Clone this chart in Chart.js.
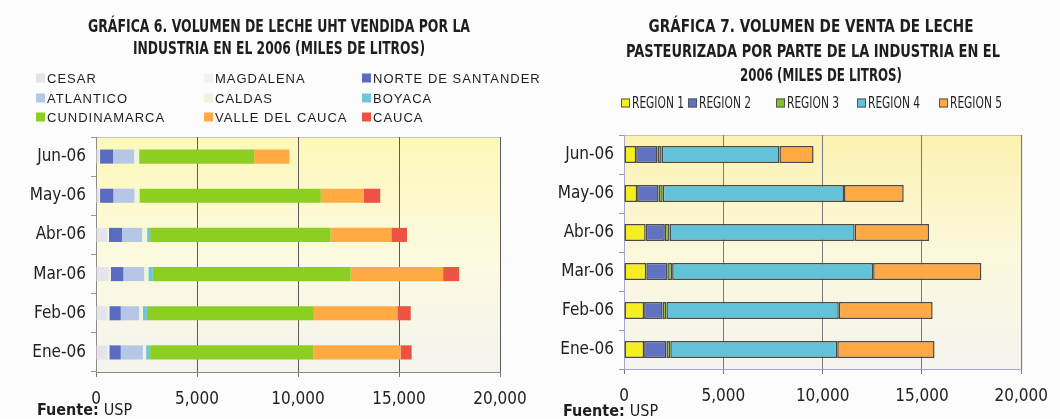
<!DOCTYPE html>
<html><head><meta charset="utf-8">
<script src="https://cdn.jsdelivr.net/npm/chart.js@4/dist/chart.umd.min.js"></script>
<style>
html,body{margin:0;padding:0;background:#fcfcfc;}
#wrap{position:relative;width:1060px;height:419px;overflow:hidden;}
canvas{position:absolute;top:0;}
#c1{left:0}
#c2{left:540px}
</style></head><body>
<div id="wrap"><canvas id="c1" width="540" height="419"></canvas><canvas id="c2" width="520" height="419"></canvas></div>
<script>
const months = ['Ene-06','Feb-06','Mar-06','Abr-06','May-06','Jun-06'];
const xMin = 0, xMax = 20000, xStep = 5000;

// Gráfica 6 (miles de litros)
const title6 = ['GRÁFICA 6. VOLUMEN DE LECHE UHT VENDIDA POR LA', 'INDUSTRIA EN EL 2006 (MILES DE LITROS)'];
const names6 = ['CESAR','MAGDALENA','NORTE DE SANTANDER','ATLANTICO','CALDAS','BOYACA','CUNDINAMARCA','VALLE DEL CAUCA','CAUCA'];
const cesar          = [560, 560, 630, 545, 150, 150];
const magdalena      = [100, 100, 100, 100, 50, 50];
const norteSantander = [565, 565, 625, 645, 660, 645];
const atlantico      = [1090, 910, 1025, 990, 1040, 1040];
const caldas         = [165, 185, 215, 250, 250, 250];
const boyaca         = [200, 200, 220, 150, 0, 0];
const cundinamarca   = [8070, 8265, 9790, 8930, 8980, 5700];
const valleCauca     = [4330, 4135, 4580, 3010, 2120, 1740];
const cauca          = [545, 660, 795, 775, 820, 0];
const colors6 = ['#e4e4ea','#f1f4ec','#5a6cc0','#b6c6e6','#eef3da','#6cc6d8','#8ccf22','#ffaa42','#ee5242'];

// Gráfica 7 (miles de litros)
const title7 = ['GRÁFICA 7. VOLUMEN DE VENTA DE LECHE', 'PASTEURIZADA POR PARTE DE LA INDUSTRIA EN EL', '2006 (MILES DE LITROS)'];
const names7 = ['REGION 1','REGION 2','REGION 3','REGION 4','REGION 5'];
const region1 = [1012, 1012, 1123, 1090, 660, 612];
const region2 = [1125, 930, 1060, 965, 1080, 1075];
const region3 = [193, 193, 240, 240, 210, 207];
const region4 = [8405, 8680, 10120, 9320, 9125, 5930];
const region5 = [4900, 4725, 5450, 3745, 3008, 1720];
const colors7 = ['#f6ee22','#6272c2','#82c032','#62c2d8','#ffa846'];

const FN = "'Liberation Sans Narrow','Arial Narrow','DejaVu Sans Condensed',sans-serif";
const FR = "'Liberation Sans',Arial,sans-serif";

const decoPlugin = {
  id: 'deco',
  beforeDraw(chart, args, o) {
    const {ctx, chartArea: a} = chart;
    ctx.save();
    const g = ctx.createLinearGradient(a.left, a.top, a.left, a.bottom);
    g.addColorStop(0, o.bg[0]); g.addColorStop(0.5, o.bg[1]); g.addColorStop(1, o.bg[2]);
    ctx.fillStyle = g;
    ctx.fillRect(a.left, a.top, a.width, a.height);
    ctx.strokeStyle = o.frame; ctx.lineWidth = 1;
    ctx.strokeRect(Math.round(a.left) + 0.5, Math.round(a.top) + 0.5, a.width, a.height);
    ctx.restore();
  },
  afterDraw(chart, args, o) {
    const ctx = chart.ctx;
    ctx.save();
    ctx.fillStyle = '#1e1e1e';
    ctx.textBaseline = 'middle';
    ctx.textAlign = 'center';
    ctx.font = 'bold 17px ' + FN;
    o.title.forEach((t, i) => ctx.fillText(t, o.titleX[i], o.titleY[i], o.titleW[i]));
    ctx.textAlign = 'left';
    ctx.font = o.legFont;
    if (o.legSpacing) ctx.letterSpacing = o.legSpacing;
    chart.data.datasets.forEach((ds, i) => {
      const col = i % o.legCols.length, row = Math.floor(i / o.legCols.length);
      const x = o.legCols[col], y = o.legRows[row];
      ctx.fillStyle = ds.backgroundColor;
      ctx.fillRect(x, y - 4.5, 9, 9);
      if (o.legBorder) { ctx.strokeStyle = o.legBorder; ctx.lineWidth = 1; ctx.strokeRect(x + 0.5, y - 4, 8, 8); }
      ctx.fillStyle = '#1e1e1e';
      if (o.legW) ctx.fillText(ds.label, x + 11, y + 1, o.legW);
      else ctx.fillText(ds.label, x + 11, y + 1);
    });
    ctx.letterSpacing = '0px';
    ctx.font = 'bold 16px ' + FN;
    ctx.fillText('Fuente:', o.srcX, o.srcY);
    const w = ctx.measureText('Fuente: ').width;
    ctx.font = '16px ' + FN;
    ctx.fillText('USP', o.srcX + w, o.srcY);
    ctx.restore();
  }
};

function build(id, names, series, colors, bar, opts, pad, yW) {
  return new Chart(document.getElementById(id), {
    type: 'bar',
    data: {
      labels: months,
      datasets: series.map((s, i) => Object.assign({label: names[i], data: s, backgroundColor: colors[i]}, bar))
    },
    options: {
      indexAxis: 'y',
      responsive: false,
      animation: false,
      events: [],
      layout: {padding: pad},
      plugins: {legend: {display: false}, title: {display: false}, tooltip: {enabled: false}, deco: opts},
      scales: {
        x: {
          stacked: true, min: xMin, max: xMax,
          ticks: {stepSize: xStep, color: '#222', font: {family: FN, size: 17}, padding: 12, maxRotation: 0},
          grid: {color: opts.gridColor, lineWidth: 1, tickLength: 5, tickColor: '#777'},
          border: {color: opts.axisColor, width: 1},
          afterFit(s) { s.height = 34; }
        },
        y: {
          stacked: true, reverse: true,
          ticks: {color: '#222', font: {family: FN, size: 17}, padding: 5},
          grid: {drawOnChartArea: false, tickLength: 5, color: '#999'},
          border: {color: opts.axisColor, width: 1},
          afterFit(s) { s.width = yW; }
        }
      }
    },
    plugins: [decoPlugin]
  });
}

build('c1', names6,
  [cesar, magdalena, norteSantander, atlantico, caldas, boyaca, cundinamarca, valleCauca, cauca],
  colors6,
  {barPercentage: 0.36, categoryPercentage: 1, borderWidth: 0},
  {
    bg: ['#fdf8b8', '#fcfadf', '#f4f3ee'], frame: '#c4c4c4', gridColor: '#5a5a5a', axisColor: '#8a8a8a',
    title: title6, titleX: [279, 279], titleY: [28, 50], titleW: [382, 292],
    legFont: '13px ' + FR, legSpacing: '1px', legCols: [36, 204, 362], legRows: [78, 98, 117],
    srcX: 37, srcY: 411
  },
  {top: 137, right: 40, bottom: 13, left: 0}, 96);

build('c2', names7,
  [region1, region2, region3, region4, region5],
  colors7,
  {barPercentage: 0.44, categoryPercentage: 1, borderWidth: 1.5, borderColor: '#4a4a4a', borderSkipped: false},
  {
    bg: ['#fbf2b0', '#fbf8dc', '#f5f4ef'], frame: '#c0c0c0', gridColor: '#7a7a7a', axisColor: '#a6a6cc',
    title: title7, titleX: [271, 273, 281], titleY: [28, 53, 77], titleW: [325, 374, 162],
    legFont: '16px ' + FN, legCols: [81, 148, 236, 317, 399], legRows: [103], legW: 52, legBorder: '#555',
    srcX: 23, srcY: 412
  },
  {top: 135, right: 21, bottom: 16, left: 0}, 84);
</script>
</body></html>
